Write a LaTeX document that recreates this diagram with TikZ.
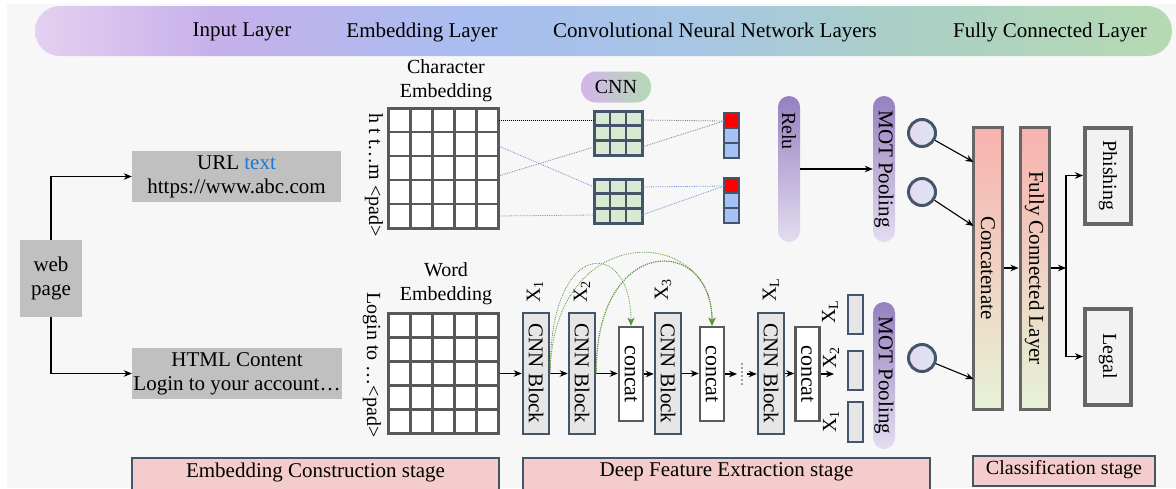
\documentclass[tikz,border=0pt]{standalone}
\usepackage{fontspec}
\setmainfont{Liberation Serif}
\usetikzlibrary{arrows.meta}
\definecolor{bgc}{HTML}{F7F7F7}
\definecolor{hA}{HTML}{E4D0F0}
\definecolor{hB}{HTML}{C6B0EA}
\definecolor{hC}{HTML}{A9BDF0}
\definecolor{hD}{HTML}{A7C6E4}
\definecolor{hE}{HTML}{ABCFC6}
\definecolor{hF}{HTML}{B5DAB2}
\definecolor{greybox}{HTML}{C0C0C0}
\definecolor{urlblue}{HTML}{1F78D1}
\definecolor{matgrey}{HTML}{595959}
\definecolor{slate}{HTML}{44546A}
\definecolor{kgreen}{HTML}{D9EAD3}
\definecolor{vblue}{HTML}{A4C2F4}
\definecolor{blockgrey}{HTML}{E6E6E6}
\definecolor{dgrey}{HTML}{595959}
\definecolor{dgreyb}{HTML}{666666}
\definecolor{outfill}{HTML}{F2F2F2}
\definecolor{stagepink}{HTML}{F4CCCC}
\definecolor{pilltop}{HTML}{9580C0}
\definecolor{pillbot}{HTML}{E4DDF0}
\definecolor{barTop}{HTML}{F8B2AE}
\definecolor{barBot}{HTML}{E6F2D6}
\definecolor{circL}{HTML}{E6D8F2}
\definecolor{circR}{HTML}{DCE6F5}
\definecolor{cnnL}{HTML}{D6B4EC}
\definecolor{cnnM}{HTML}{A8C4F0}
\definecolor{cnnR}{HTML}{B2DAB4}
\definecolor{gcol}{HTML}{5E9438}
\definecolor{dotblue}{HTML}{6F8FD8}
\definecolor{dotgrey}{HTML}{808080}
\pgfdeclarehorizontalshading{hdrshade}{100bp}{color(0bp)=(hA); color(25bp)=(hA); color(33bp)=(hB); color(44bp)=(hC); color(54bp)=(hD); color(63bp)=(hE); color(75bp)=(hF); color(100bp)=(hF)}
\begin{document}
\begin{tikzpicture}[x=1pt,y=-1pt,
  every node/.style={font=\fontsize{20}{24}\selectfont},
  big/.style={font=\fontsize{21}{24}\selectfont},
  arr/.style={-{Stealth[length=8pt,width=6.5pt,inset=2.5pt]}, line width=1.1pt, black},
  gbox/.style={fill=greybox, inner sep=0pt, align=center, font=\fontsize{21}{24}\selectfont},
  rot/.style={rotate=-90, inner sep=0pt},
  rotu/.style={rotate=90, inner sep=0pt},
  mat/.style={draw=matgrey, line width=3pt, fill=white, minimum width=110pt, minimum height=120pt, inner sep=0pt},
  gridl/.style={draw=matgrey, line width=2.6pt},
  kern/.style={draw=slate, line width=3pt, minimum width=48pt, minimum height=44pt, inner sep=0pt},
  vec/.style={draw=slate, line width=2.5pt, minimum width=15pt, minimum height=45pt, inner sep=0pt},
  cnnbox/.style={draw=slate, line width=2.5pt, fill=blockgrey, minimum width=26pt, minimum height=121pt, inner sep=0pt},
  catbox/.style={draw=dgrey, line width=2.5pt, fill=white, minimum width=24pt, minimum height=94pt, inner sep=0pt},
  smallbox/.style={draw=slate, line width=2pt, fill=blockgrey, minimum width=15pt, minimum height=39pt, inner sep=0pt},
  pill/.style={rounded corners=11pt, top color=pilltop, bottom color=pillbot, minimum width=22pt, inner sep=0pt},
  circ/.style={circle, draw=slate, line width=3pt, left color=circL, right color=circR, minimum size=27pt, inner sep=0pt},
  bar/.style={draw=dgreyb, line width=3pt, top color=barTop, bottom color=barBot, minimum width=29pt, minimum height=282pt, inner sep=0pt},
  outbox/.style={draw=dgreyb, line width=4pt, fill=outfill, minimum width=46pt, minimum height=96pt, inner sep=0pt},
  stage/.style={draw=slate, line width=2pt, fill=stagepink, inner sep=0pt},
  dotk/.style={densely dotted, line width=1pt, black},
  dotg/.style={densely dotted, line width=0.8pt, dotgrey},
  dotb/.style={densely dotted, line width=0.8pt, dotblue},
  gcurve/.style={densely dotted, line width=0.8pt, gcol, -{Stealth[length=8pt,width=7pt,inset=2pt]}},
  rtxt/.style={rotate=-90, inner sep=0pt, font=\fontsize{21}{24}\selectfont}
]
\useasboundingbox (0,0) rectangle (1176,488);
\fill[bgc] (7,4) rectangle (1176,488);
% header band
\shade[shading=hdrshade, rounded corners=25pt] (35,6) rectangle (1172,56);
\node[big] (hin) at (242,32) {Input Layer};
\node[big] (hem) at (422,32) {Embedding Layer};
\node[big] (hcn) at (715,32) {Convolutional Neural Network Layers};
\node[big] (hfc) at (1050,32) {Fully Connected Layer};
% input
\node[gbox, minimum width=62pt, minimum height=77pt] (web) at (51,278.5) {web\\page};
\node[gbox, minimum width=209pt, minimum height=51pt] (url) at (236.5,176.5) {URL \textcolor{urlblue}{text}\\https://www.abc.com};
\node[gbox, minimum width=210pt, minimum height=51pt] (html) at (237,373.5) {HTML Content\\Login to your account…};
\draw[arr] (web.north) |- (url.west);
\draw[arr] (web.south) |- (html.west);
% character embedding
\node[align=center] (clab) at (446,81) {Character\\Embedding};
\node[mat] (cm) at (443.5,168) {};
\node[mat] (wm) at (443.5,373.5) {};
\foreach \t in {108,313.5}{
  \foreach \i in {1,...,4}{
    \draw[gridl] (388.5+22*\i,\t) -- ++(0,120);
    \draw[gridl] (388.5,\t+24*\i) -- ++(110,0);
  }
}
\node[mat, fill=none] (cmb) at (443.5,168) {};
\node[mat, fill=none] (wmb) at (443.5,373.5) {};
\node[rot] (ctxt) at (374,175) {h t t…m <pad>};
% CNN pill
\node[rounded corners=15pt, left color=cnnL, middle color=cnnM, right color=cnnR, minimum width=70pt, minimum height=31pt, inner sep=0pt] (cnnp) at (616,87) {CNN};
% kernels
\foreach \yy in {133,201}{
  \fill[kgreen] (594,\yy-22) rectangle (642,\yy+22);
  \draw[slate, line width=2.5pt] (610,\yy-22) -- (610,\yy+22);
  \draw[slate, line width=2.5pt] (626,\yy-22) -- (626,\yy+22);
  \draw[slate, line width=2.5pt] (594,\yy-7.33) -- (642,\yy-7.33);
  \draw[slate, line width=2.5pt] (594,\yy+7.33) -- (642,\yy+7.33);
}
\node[kern] (k1) at (618,133) {};
\node[kern] (k2) at (618,201) {};
% vectors
\foreach \yy in {113,178}{
  \fill[vblue] (724,\yy) rectangle (739,\yy+45);
  \fill[red] (724,\yy) rectangle (739,\yy+15);
  \draw[slate, line width=2.5pt] (724,\yy+15) -- (739,\yy+15);
  \draw[slate, line width=2.5pt] (724,\yy+30) -- (739,\yy+30);
}
\node[vec] (v1) at (731.5,135.5) {};
\node[vec] (v2) at (731.5,200.5) {};
% dotted connections
\coordinate (cmA) at (498.5,120);
\coordinate (cmB) at (498.5,146);
\coordinate (cmC) at (498.5,176);
\coordinate (cmE) at (498.5,216);
\coordinate (k1A) at (594,120);
\coordinate (k1B) at (594,147);
\coordinate (k2A) at (594,187);
\coordinate (k2B) at (594,215);
\coordinate (k1C) at (642,120);
\coordinate (k1D) at (642,147);
\coordinate (k2C) at (642,187);
\coordinate (k2D) at (642,215);
\coordinate (v1in) at (724,121);
\coordinate (v2in) at (724,186);
\draw[dotk] (cmA) -- (k1A);
\draw[dotg] (cmC) -- (k1B);
\draw[dotb] (cmB) -- (k2A);
\draw[dotb] (cmE) -- (k2B);
\draw[dotg] (k1C) -- (v1in);
\draw[dotg] (k1D) -- (v1in);
\draw[dotb] (k2C) -- (v2in);
\draw[dotb] (k2D) -- (v2in);
% relu and pooling
\node[pill, minimum height=146pt] (relu) at (789,169) {};
\node[rot] (relut) at (789,131) {Relu};
\node[pill, minimum height=146pt] (mot1) at (884,169) {};
\node[rtxt] (mot1t) at (mot1) {MOT Pooling};
\draw[arr] (relu.east) -- (mot1.west);
% circles and classifier
\node[circ] (c1) at (922,133) {};
\node[circ] (c2) at (922,192) {};
\node[circ] (c3) at (922,358) {};
\node[bar] (cat) at (988,268) {};
\node[rtxt] (catt) at (cat) {Concatenate};
\node[bar] (fc) at (1034.5,268) {};
\node[rtxt] (fct) at (fc) {Fully Connected Layer};
\coordinate (cin1) at (973.5,162);
\coordinate (cin2) at (973.5,226);
\coordinate (cin3) at (973.5,379);
\draw[arr] (c1) -- (cin1);
\draw[arr] (c2) -- (cin2);
\draw[arr] (c3) -- (cin3);
\draw[arr] (cat.east) -- (fc.west);
\node[outbox] (ph) at (1108,175.5) {};
\node[rot] (pht) at (ph) {Phishing};
\node[outbox] (lg) at (1108,356.5) {};
\node[rot] (lgt) at (lg) {Legal};
\coordinate (jn) at (1066,268);
\draw[arr] (fc.east) -- (jn);
\draw[arr] (jn) |- (ph.west);
\draw[arr] (jn) |- (lg.west);
% word embedding
\node[align=center] (wlab) at (446,284) {Word\\Embedding};
\node[rot] (wtxt) at (372,365) {Login to …<pad>};
\node[cnnbox] (b1) at (536,373.5) {};
\node[rtxt] at (b1) {CNN Block};
\node[cnnbox] (b2) at (582,373.5) {};
\node[rtxt] at (b2) {CNN Block};
\node[catbox] (cc1) at (631,374) {};
\node[rot, font=\fontsize{22}{24}\selectfont] at (cc1) {concat};
\node[cnnbox] (b3) at (668,373.5) {};
\node[rtxt] at (b3) {CNN Block};
\node[catbox] (cc2) at (712,374) {};
\node[rot, font=\fontsize{22}{24}\selectfont] at (cc2) {concat};
\node[rotu, font=\fontsize{12}{14}\selectfont] (dots) at (742,374) {……};
\coordinate (dotsL) at (737,374);
\coordinate (dotsR) at (747,374);
\node[cnnbox] (bL) at (771,373.5) {};
\node[rtxt] at (bL) {CNN Block};
\node[catbox] (cc3) at (807.5,374) {};
\node[rot, font=\fontsize{22}{24}\selectfont] at (cc3) {concat};
\coordinate (xout) at (834,374);
\draw[arr] (wm.east) -- (b1.west);
\draw[arr] (b1.east) -- (b2.west);
\draw[arr] (b2.east) -- (cc1.west |- b2.east);
\draw[arr] (cc1.east) -- (b3.west |- cc1.east);
\draw[arr] (b3.east) -- (cc2.west |- b3.east);
\draw[arr] (cc2.east) -- (dotsL);
\draw[arr] (dotsR) -- (bL.west |- dotsR);
\draw[arr] (bL.east) -- (cc3.west |- bL.east);
\draw[arr] (cc3.east) -- (xout);
\node[rotu] (x1) at (535,292) {X\textsubscript{1}};
\node[rotu] (x2) at (582,292) {X\textsubscript{2}};
\node[rotu] (x3) at (663,290) {X\textsubscript{3}};
\node[rotu] (xL) at (771,290) {X\textsubscript{L}};
% dense connections
\draw[gcurve] (b1.east) .. controls (549,236) and (631,238) .. (cc1.north);
\draw[gcurve] (b1.east) .. controls (552,220) and (712,224) .. (cc2.north);
\draw[gcurve, line width=1.2pt] (b2.east) .. controls (595,234) and (712,234) .. (cc2.north);
% pooled outputs
\node[smallbox] (s1) at (855.5,314.5) {};
\node[smallbox] (s2) at (855.5,370.5) {};
\node[smallbox, minimum height=40pt] (s3) at (855.5,422) {};
\node[rotu] (sx1) at (830,312) {X\textsubscript{L}};
\node[rotu] (sx2) at (831,358) {X\textsubscript{2}};
\node[rotu] (sx3) at (831,422) {X\textsubscript{1}};
\node[pill, minimum height=147pt] (mot2) at (884,375.5) {};
\node[rtxt] (mot2t) at (mot2) {MOT Pooling};
% stages
\node[stage, minimum width=367pt, minimum height=34pt] (st1) at (315.5,475) {};
\node[big] (st1t) at (315.5,472) {Embedding Construction stage};
\node[stage, minimum width=407pt, minimum height=34pt] (st2) at (726.5,475) {};
\node[big] (st2t) at (726.5,472) {Deep Feature Extraction stage};
\node[stage, minimum width=182pt, minimum height=30pt] (st3) at (1064,471) {};
\node (st3t) at (1064,470) {Classification stage};
\end{tikzpicture}
\end{document}
